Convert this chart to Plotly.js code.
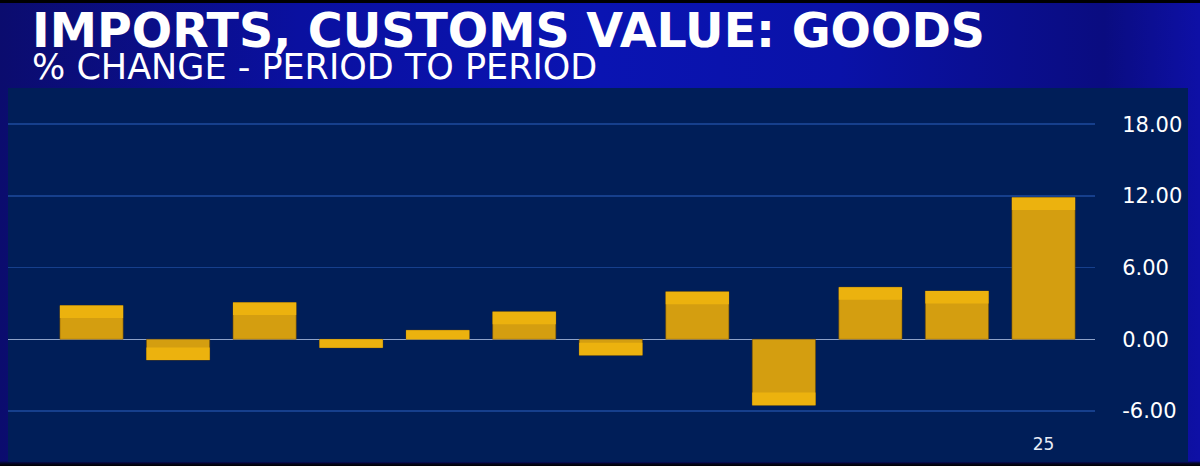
<!DOCTYPE html>
<html>
<head>
<meta charset="utf-8">
<script src="https://cdn.plot.ly/plotly-3.0.1.min.js"></script>
<style>
  html, body { margin: 0; padding: 0; }
  body {
    width: 1200px; height: 466px; overflow: hidden;
    background:
      linear-gradient(to bottom, #000 0, #000 3px, rgba(0,0,0,0) 3px, rgba(0,0,0,0) 461px, #050830 463px, #000 466px),
      linear-gradient(to right, #0b0c6e 0%, #0a10a0 25%, #0a14b2 50%, #0a12a8 70%, #0a0c80 92%, #0e10a6 100%);
  }
  #chart { width: 1200px; height: 466px; }
</style>
</head>
<body>
<div id="chart"></div>
<script>
// Data
const categories = ["1","2","3","4","5","6","7","8","9","10","11","12"];
const pctChange = [2.83, -1.74, 3.08, -0.70, 0.76, 2.31, -1.34, 3.99, -5.51, 4.36, 4.05, 11.87];
const xTickVals = ["12"];
const xTickText = ["25"];
const yTickVals = [-6, 0, 6, 12, 18];
const yTickText = ["-6.00", "0.00", "6.00", "12.00", "18.00"];
const titleText = "IMPORTS, CUSTOMS VALUE: GOODS";
const subtitleText = "% CHANGE - PERIOD TO PERIOD";

// Lighter highlight band at the outer end of each bar (derived from the values)
const band = 1.05;
const bandLen = pctChange.map(v => Math.sign(v) * Math.min(Math.abs(v), band));
const bandBase = pctChange.map((v, i) => v - bandLen[i]);

const traces = [
  {
    type: "bar", x: categories, y: pctChange,
    marker: { color: "#d49e10", line: { color: "rgba(120,80,0,0.55)", width: 1 } },
    hoverinfo: "skip"
  },
  {
    type: "bar", x: categories, y: bandLen, base: bandBase,
    marker: { color: "#ecb20e", line: { width: 0 } },
    hoverinfo: "skip"
  }
];

const headerText =
  "<span style='font-size:47.5px;font-weight:bold'>" + titleText + "</span><br>" +
  "<span style='font-size:35px'>" + subtitleText + "</span>";

const layout = {
  width: 1200, height: 466,
  margin: { l: 8, r: 105, t: 88, b: 41 },
  paper_bgcolor: "rgba(0,0,0,0)",
  plot_bgcolor: "rgba(0,0,0,0)",
  barmode: "overlay",
  bargap: 0.27,
  showlegend: false,
  font: { family: "DejaVu Sans, sans-serif", color: "#ffffff" },
  xaxis: {
    type: "category",
    range: [-0.965, 11.595],
    tickmode: "array", tickvals: xTickVals, ticktext: xTickText,
    showgrid: false, zeroline: false, showline: false,
    ticks: "outside", ticklen: 4, tickcolor: "rgba(0,0,0,0)",
    tickfont: { size: 17, color: "#e8ecf5", family: "DejaVu Sans, sans-serif" },
    fixedrange: true
  },
  yaxis: {
    side: "right",
    range: [-7.17, 21.03],
    tickmode: "array", tickvals: yTickVals, ticktext: yTickText,
    showgrid: true, gridcolor: "#163f8c", gridwidth: 1.5,
    zeroline: true, zerolinecolor: "#8ea2c8", zerolinewidth: 1.5,
    showline: false,
    ticks: "outside", ticklen: 22, tickcolor: "rgba(0,0,0,0)",
    tickfont: { size: 21, color: "#ffffff", family: "DejaVu Sans, sans-serif" },
    fixedrange: true
  },
  shapes: [
    {
      type: "rect", xref: "paper", yref: "paper", layer: "below",
      x0: 0, x1: (1188 - 8) / 1087,
      y0: (425 - 462) / 337, y1: 1,
      fillcolor: "#001e58", line: { width: 0 }
    }
  ],
  annotations: [
    {
      text: headerText, xref: "paper", yref: "paper",
      x: (30 - 8) / 1087, y: (425 - 1) / 337,
      xanchor: "left", yanchor: "top", align: "left", showarrow: false,
      font: { family: "DejaVu Sans, sans-serif", size: 24.5, color: "#ffffff" }
    }
  ]
};

Plotly.newPlot("chart", traces, layout, { staticPlot: true, displayModeBar: false });
</script>
</body>
</html>
